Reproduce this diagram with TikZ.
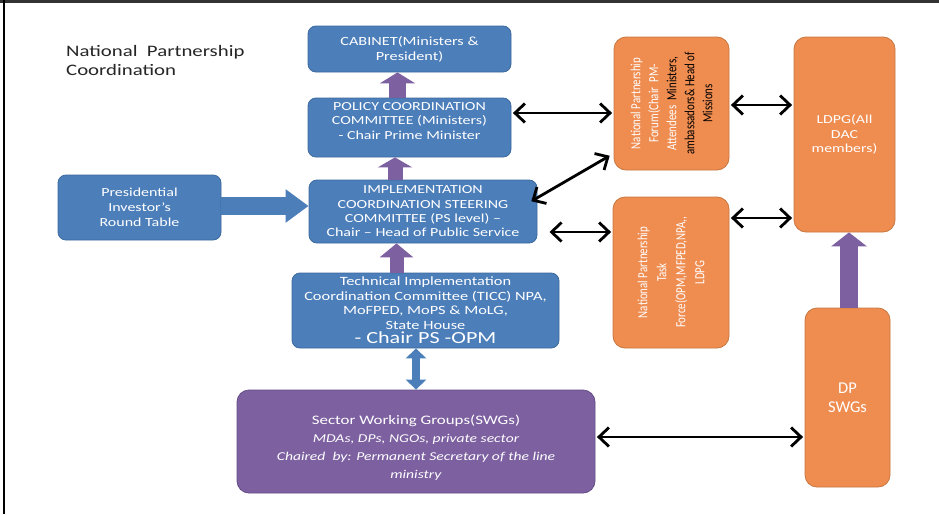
\documentclass[tikz,border=0pt]{standalone}
\usepackage{fontspec}
\usepackage{graphicx}
\setmainfont{Carlito}[FakeStretch=1.3]
\newfontfamily\plainfont{Carlito}
\newfontfamily\rotfont{Carlito}[FakeStretch=0.78]
\usetikzlibrary{arrows.meta}
\definecolor{blueF}{HTML}{4C7EBA}
\definecolor{blueD}{HTML}{3D6A9E}
\definecolor{orangeF}{HTML}{EF8C50}
\definecolor{orangeD}{HTML}{C8773F}
\definecolor{purpleF}{HTML}{7D60A0}
\definecolor{purpleD}{HTML}{654C87}
\begin{document}
\begin{tikzpicture}[x=1pt,y=-1pt,
  box/.style={rounded corners=8pt, text=white, align=center, line width=0.8pt, inner sep=1pt, anchor=center},
  bluebox/.style={box, draw=blueD, fill=blueF},
  orangebox/.style={box, draw=orangeD, fill=orangeF, rounded corners=12pt},
  purplebox/.style={box, draw=purpleD, fill=purpleF, rounded corners=12pt},
  boxtext/.style={text=white, align=center, inner sep=0pt, anchor=center},
  dbl/.style={line width=2.8pt, black, {Straight Barb[length=10pt 0,width=19pt 0]}-{Straight Barb[length=10pt 0,width=19pt 0]}, shorten <=1.5pt, shorten >=1.5pt},
  purplearrow/.style={line width=17pt, purpleF, -{Triangle[width=35pt 0,length=11pt 0]}},
  bluearrow/.style={line width=18pt, blueF, -{Triangle[width=32pt 0,length=23pt 0]}},
  bluedbl/.style={line width=8pt, blueF, {Triangle[width=20pt 0,length=10pt 0]}-{Triangle[width=20pt 0,length=10pt 0]}}
]
\useasboundingbox (0,0) rectangle (939,514);
\fill[white] (0,0) rectangle (939,514);
\coordinate (tl) at (0,1.5);
\coordinate (tr) at (939,1.5);
\coordinate (lt) at (4,0);
\coordinate (lb) at (4,514);
\draw[line width=3pt, black!80] (tl) -- (tr);
\draw[line width=2pt, black] (lt) -- (lb);

\node[anchor=north west, inner sep=0pt, align=left, text=black!85, font=\fontsize{16}{19}\selectfont] (title) at (66,45) {National\ \ Partnership\\Coordination};

\node[bluebox, minimum width=203, minimum height=46, font=\fontsize{12.5}{15}\selectfont] (cab) at (409.5,49) {CABINET(Ministers \&\\President)};
\node[bluebox, minimum width=203, minimum height=59] (pol) at (409.5,127.5) {};
\node[boxtext, font=\fontsize{12.3}{14.5}\selectfont] (poltext) at ([yshift=6.5pt]pol.center) {POLICY COORDINATION\\COMMITTEE (Ministers)\\- Chair Prime Minister};
\node[bluebox, minimum width=228, minimum height=63, font=\fontsize{12.3}{14.3}\selectfont] (impl) at (423,211.5) {IMPLEMENTATION\\COORDINATION STEERING\\COMMITTEE (PS level) --\\Chair -- Head of Public Service};
\node[bluebox, minimum width=163, minimum height=65, font=\fontsize{12.3}{15}\selectfont] (pres) at (139.5,207.5) {Presidential\\Investor's\\Round Table};
\node[bluebox, minimum width=267, minimum height=75, font=\fontsize{12.6}{14.5}\selectfont] (ticc) at (425.5,310.5) {Technical Implementation\\Coordination Committee (TICC) NPA,\\MoFPED, MoPS \& MoLG,\\State House\\{\fontsize{17}{17}\selectfont - Chair PS -OPM}};
\node[purplebox, minimum width=358, minimum height=103] (swg) at (416,441.5) {};
\node[boxtext, font=\fontsize{12}{18}\selectfont] (swgtext) at ([yshift=-6pt]swg.center) {{\fontsize{13}{18}\selectfont Sector Working Groups(SWGs)}\\\textit{MDAs, DPs, NGOs, private sector}\\\textit{Chaired\ \ by: Permanent Secretary of the line}\\\textit{ministry}};
\node[orangebox, minimum width=85, minimum height=179, font=\plainfont\fontsize{16.5}{19}\selectfont] (dp) at (847.5,397.5) {DP\\SWGs};
\node[orangebox, minimum width=101, minimum height=195, font=\fontsize{12.2}{14.5}\selectfont] (ldpg) at (844.5,134.5) {LDPG(All\\DAC\\members)};
\node[orangebox, minimum width=115, minimum height=133, inner sep=0pt] (forum) at (671.5,103.5) {\rotatebox{90}{\parbox{130pt}{\centering\rotfont\fontsize{14}{18}\selectfont National Partnership\\Forum(Chair\ \ PM-\\Attendees\ \ \textcolor{black}{Ministers,}\\\textcolor{black}{ambassadors\& Head of}\\\textcolor{black}{Missions}}}};
\node[orangebox, minimum width=116, minimum height=151, inner sep=0pt] (task) at (671,272.5) {\rotatebox{90}{\parbox{140pt}{\centering\rotfont\fontsize{14}{19}\selectfont National Partnership\\Task\\Force(OPM,MFPED,NPA,,\\LDPG}}};

% purple block arrows
\coordinate (pa) at (397.5,0);
\coordinate (pb) at (395,0);
\coordinate (pc) at (396.5,0);
\coordinate (pd) at (849,0);
\draw[purplearrow] (pa |- pol.north) -- (pa |- cab.south);
\draw[purplearrow, line width=15pt, -{Triangle[width=34pt 0,length=10pt 0]}] (pb |- impl.north) -- (pb |- pol.south);
\draw[purplearrow, line width=14pt, -{Triangle[width=33pt 0,length=14pt 0]}] (pc |- ticc.north) -- (pc |- impl.south);
\draw[purplearrow, line width=18pt, -{Triangle[width=35pt 0,length=14pt 0]}] (pd |- dp.north) -- (pd |- ldpg.south);

% blue block arrows
\coordinate (ba) at (0,206);
\coordinate (bb) at (416,0);
\draw[bluearrow] (pres.east |- ba) -- (impl.west |- ba);
\draw[bluedbl] (bb |- ticc.south) -- (bb |- swg.north);

% black double arrows
\coordinate (ya) at (0,113);
\coordinate (yb) at (0,105);
\coordinate (yc) at (0,232);
\coordinate (yd) at (0,218);
\coordinate (ye) at (0,437);
\coordinate (xa) at (548,0);
\coordinate (da) at (530,202);
\coordinate (db) at (611,155);
\draw[dbl] (pol.east |- ya) -- (forum.west |- ya);
\draw[dbl] (forum.east |- yb) -- (ldpg.west |- yb);
\draw[dbl] (da) -- (db);
\draw[dbl] (xa |- yc) -- (task.west |- yc);
\draw[dbl] (task.east |- yd) -- (ldpg.west |- yd);
\draw[dbl] (swg.east |- ye) -- (dp.west |- ye);
\end{tikzpicture}
\end{document}
